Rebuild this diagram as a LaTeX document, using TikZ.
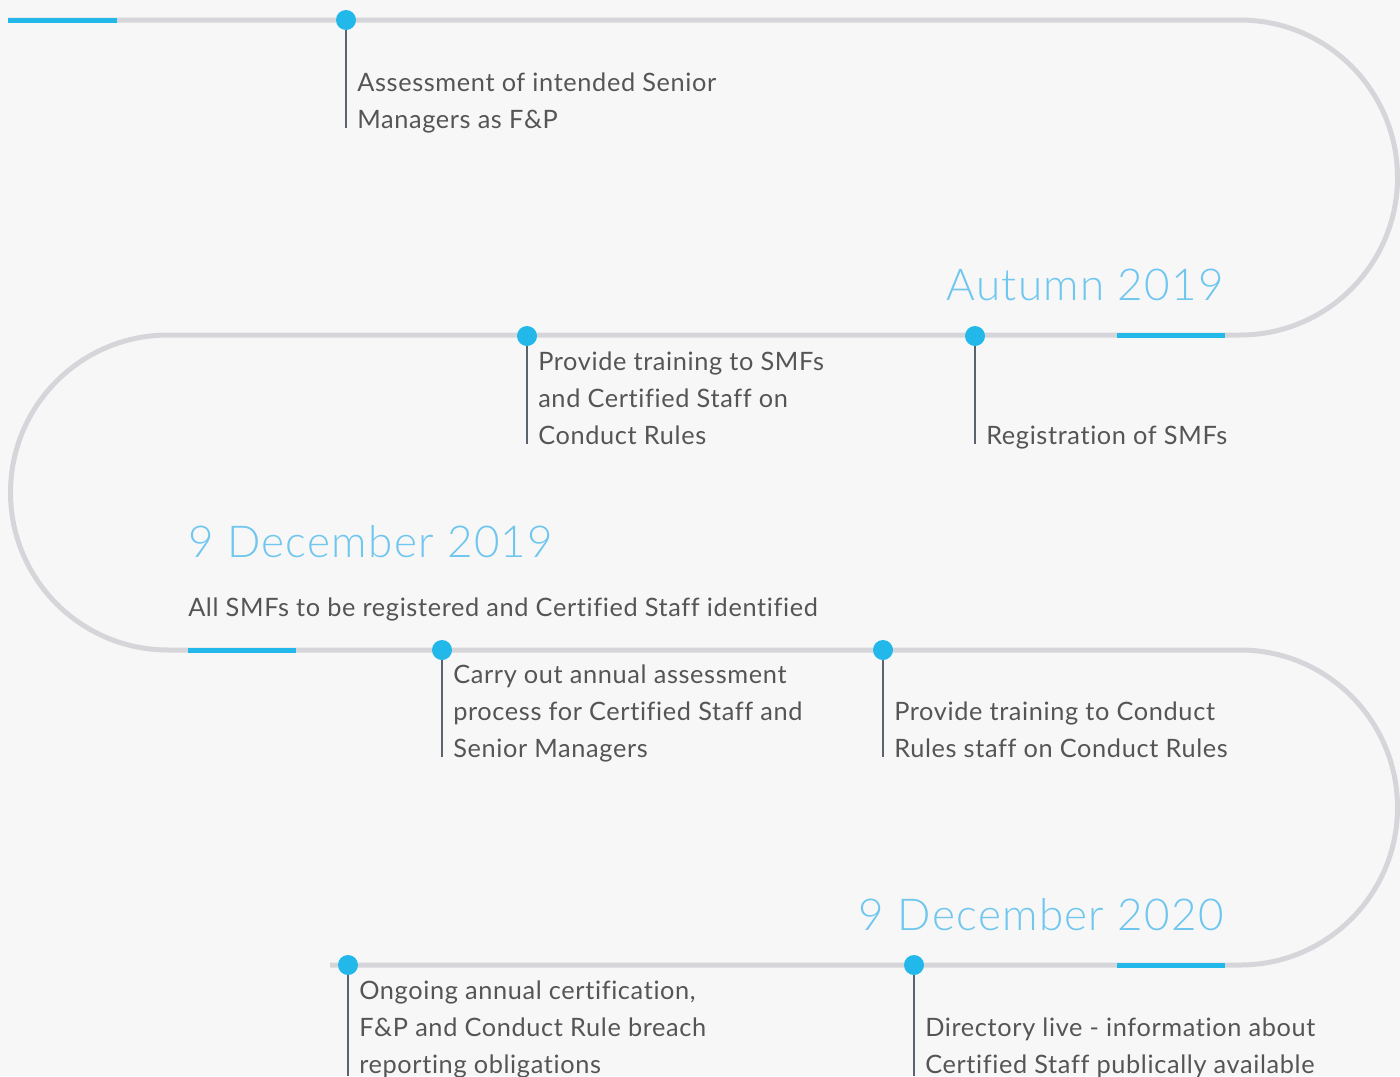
\documentclass[tikz,border=0pt]{standalone}
\usepackage{fontspec}
\setmainfont{Lato}[LetterSpace=2.5,Ligatures=NoCommon]
\IfFontExistsTF{Lato Light}
  {\newfontfamily\headfont{Lato Light}[LetterSpace=3]}
  {\newfontfamily\headfont{Lato}[LetterSpace=3]}
\definecolor{bgc}{HTML}{F7F7F7}
\definecolor{trackc}{HTML}{D6D6DA}
\definecolor{accentc}{HTML}{22B8EA}
\definecolor{headc}{HTML}{6FC6EF}
\definecolor{textc}{HTML}{555555}
\definecolor{stemc}{HTML}{5B6270}
\begin{document}
\begin{tikzpicture}[x=0.75pt,y=-0.75pt,
  track/.style={draw=trackc,line width=3.75pt},
  accent/.style={draw=accentc,line width=3.75pt},
  dot/.style={circle,fill=accentc,minimum size=15pt,inner sep=0pt},
  stem/.style={draw=stemc,line width=1.4pt},
  body/.style={text=textc,inner sep=0pt,align=left,anchor=base west,
    font=\fontsize{19}{27.75}\selectfont},
  head/.style={text=headc,inner sep=0pt,font=\headfont\fontsize{33}{40}\selectfont},
]
\fill[bgc] (0,0) rectangle (1400,1076);
\useasboundingbox (0,0) rectangle (1400,1076);

% serpentine track
\draw[track] (8,20) -- (1240,20)
  arc[start angle=-90,end angle=90,radius=157.5] -- (168,335)
  arc[start angle=270,end angle=90,radius=157.5] -- (1240,650)
  arc[start angle=-90,end angle=90,radius=157.5] -- (330,965);

% accent segments
\draw[accent] (8,20) -- (117,20);
\draw[accent] (1117,335) -- (1225,335);
\draw[accent] (188,650) -- (296,650);
\draw[accent] (1117,965) -- (1225,965);

% headings
\node[head,anchor=base east] (h1) at (1224,300) {Autumn 2019};
\node[head,anchor=base west] (h2) at (188,557) {9 December 2019};
\node[body] (h2t) at (188,616) {All SMFs to be registered and Certified Staff identified};
\node[head,anchor=base east] (h3) at (1224,930) {9 December 2020};

% milestones: dot, stem end, text (anchored on the last line's baseline)
\coordinate (e1) at (346,128);
\coordinate (e2) at (527,444);
\coordinate (e3) at (975,444);
\coordinate (e4) at (442,757);
\coordinate (e5) at (883,757);
\coordinate (e6) at (348,1076);
\coordinate (e7) at (914,1076);

\node[dot] (d1) at (346,20) {};
\node[dot] (d2) at (527,336) {};
\node[dot] (d3) at (975,336) {};
\node[dot] (d4) at (442,650) {};
\node[dot] (d5) at (883,650) {};
\node[dot] (d6) at (348,965) {};
\node[dot] (d7) at (914,965) {};

\foreach \i in {1,...,7} \draw[stem] (d\i.south) -- (e\i);

\node[body] (t1) at (357,128) {Assessment of intended Senior\\Managers as F\&P};
\node[body] (t2) at (538,444) {Provide training to SMFs\\and Certified Staff on\\Conduct Rules};
\node[body] (t3) at (986,444) {Registration of SMFs};
\node[body] (t4) at (453,757) {Carry out annual assessment\\process for Certified Staff and\\Senior Managers};
\node[body] (t5) at (894,757) {Provide training to Conduct\\Rules staff on Conduct Rules};
\node[body] (t6) at (359,1073) {Ongoing annual certification,\\F\&P and Conduct Rule breach\\reporting obligations};
\node[body] (t7) at (925,1073) {Directory live - information about\\Certified Staff publically available};
\end{tikzpicture}
\end{document}
